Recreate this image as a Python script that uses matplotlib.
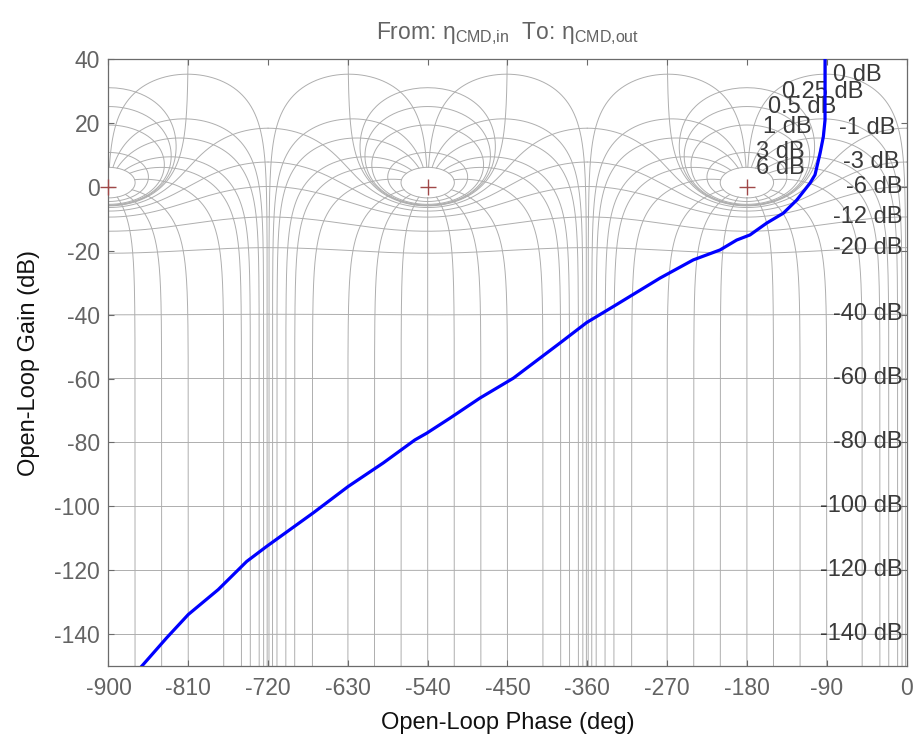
import numpy as np
import matplotlib
matplotlib.use("Agg")
import matplotlib.pyplot as plt

# Open-loop response: phase (deg) and gain (dB)
phase_deg = [-862.6, -834.4, -810.0, -776.2, -744.1, -721.6, -669.0, -629.6,
             -590.1, -554.4, -541.1, -514.9, -481.0, -443.4, -390.8, -360.7,
             -330.7, -278.0, -240.4, -210.3, -191.5, -176.5, -157.7, -138.9,
             -123.8, -108.8, -103.2, -97.5, -93.8, -91.9, -91.9, -91.9]
gain_db = [-150.0, -141.1, -133.8, -126.0, -117.2, -112.5, -102.0, -93.75,
           -86.4, -79.2, -77.1, -72.4, -66.1, -59.9, -48.9, -42.5,
           -37.5, -28.6, -22.9, -19.8, -16.7, -15.1, -11.4, -8.3,
           -4.2, 1.1, 3.7, 10.4, 15.6, 20.8, 32.3, 45.0]

# Nichols grid: closed-loop magnitudes (dB) and closed-loop phases (deg)
cl_gains = [6, 3, 1, 0.5, 0.25, 0, -1, -3, -6, -12, -20, -40, -60, -80, -100, -120, -140]
cl_phases = [1, 5, 10, 20, 30, 50, 90, 120, 150, 180]

x_ticks = list(range(-900, 1, 90))
y_ticks = list(range(-140, 41, 20))

title_text = r"From: η$_{\mathregular{CMD{,}in}}$  To: η$_{\mathregular{CMD{,}out}}$"
x_label = "Open-Loop Phase (deg)"
y_label = "Open-Loop Gain (dB)"

# label placement for the closed-loop magnitude contours
pos_label_xy = {6: (-170, 5.8), 3: (-170, 10.9), 1: (-162, 18.8),
                0.5: (-156, 25.0), 0.25: (-140, 29.7), 0: (-83, 34.9)}
neg_label_x = {-1: -13, -3: -8.5}

plt.rcParams["font.family"] = ["Liberation Sans", "DejaVu Sans"]
plt.rcParams["mathtext.fontset"] = "custom"
plt.rcParams["mathtext.rm"] = "Liberation Sans"
plt.rcParams["mathtext.it"] = "Liberation Sans:italic"
plt.rcParams["axes.unicode_minus"] = False

fig = plt.figure(figsize=(9.13, 7.47), dpi=100)
ax = fig.add_axes([0.1188, 0.108, 0.8741, 0.8134])
XMIN, XMAX, YMIN, YMAX = -900, 0, -150, 40

grid_kw = dict(color="#aeaeae", lw=0.7, zorder=1, solid_joinstyle="round")
shifts = 360 * np.arange(-3, 2)


def mag_contour(mdb):
    m = 10 ** (mdb / 20.0)
    if mdb < 0:
        th = np.linspace(-360, 0, 1441)
        c = np.cos(np.radians(th))
        r = (m * m * c + np.sqrt(m ** 4 * c * c + m * m * (1 - m * m))) / (1 - m * m)
        return th, 20 * np.log10(r)
    if mdb == 0:
        phi = np.concatenate([np.geomspace(1e-3, 10, 300),
                              np.linspace(10, 350, 700),
                              360 - np.geomspace(10, 1e-3, 300)])
        th = phi / 2 + 90 - 360
        g = -20 * np.log10(2 * np.sin(np.radians(phi / 2)))
        return th, g
    phi = np.radians(np.linspace(-180, 180, 1441))
    T = m * np.exp(1j * phi)
    G = T / (1 - T)
    th = np.mod(np.degrees(np.angle(G)), 360) - 360
    return th, 20 * np.log10(np.abs(G))


def phase_contour(psi):
    mdb = np.concatenate([np.linspace(-220, -20, 400), np.linspace(-20, 6, 8000)])
    m = 10 ** (mdb / 20.0)
    T = m * np.exp(1j * np.radians(psi))
    G = T / (1 - T)
    ang = np.degrees(np.unwrap(np.angle(G)))
    if ang[0] > 0:
        ang = ang - 360
    return ang, 20 * np.log10(np.abs(G))


for gdb in cl_gains:
    th, g = mag_contour(gdb)
    for s in shifts:
        ax.plot(th + s, g, **grid_kw)

for p in cl_phases:
    for psi in ([p, -p] if p != 180 else [p]):
        th, g = phase_contour(psi)
        for s in shifts:
            ax.plot(th + s, g, **grid_kw)

# critical points
for cp in (-900, -540, -180):
    ax.plot([cp], [0], marker="+", ms=11, mew=1.0, color="#a04848", zorder=3,
            clip_on=(cp != -900))

# contour labels
lab_kw = dict(fontsize=17, color="#3a3a3a", va="center", zorder=2)
for gdb in cl_gains:
    txt = f"{gdb:g} dB"
    if gdb >= 0:
        x, y = pos_label_xy[gdb]
        ax.text(x, y, txt, ha="left", **lab_kw)
    else:
        m = 10 ** (gdb / 20.0)
        y = 20 * np.log10(m / (1 - m))
        x = neg_label_x.get(gdb, -4.5)
        ax.text(x, y, txt, ha="right", **lab_kw)

# open-loop response
ax.plot(phase_deg, gain_db, color="#0000ff", lw=2.3, zorder=4)

ax.set_xlim(XMIN, XMAX)
ax.set_ylim(YMIN, YMAX)
ax.set_xticks(x_ticks)
ax.set_yticks(y_ticks)
ax.tick_params(direction="in", top=True, right=True, length=4, width=0.8,
               color="#6b6b6b", labelcolor="#636363", labelsize=16.5)
ax.tick_params(axis="x", pad=8)
ax.tick_params(axis="y", pad=6)
for sp in ax.spines.values():
    sp.set_color("#6b6b6b")
    sp.set_linewidth(0.9)

ax.set_xlabel(x_label, fontsize=17, color="#111111", labelpad=8)
ax.set_ylabel(y_label, fontsize=17, color="#111111", labelpad=10)
ax.set_title(title_text, fontsize=16.5, color="#636363", pad=14)

fig.savefig("out.png", dpi=100)
